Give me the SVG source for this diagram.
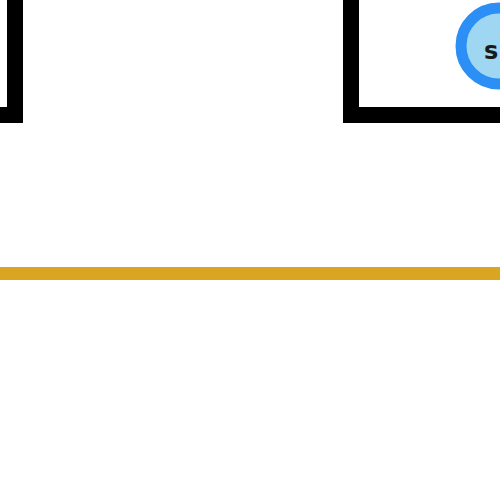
<svg xmlns="http://www.w3.org/2000/svg" width="500" height="500" viewBox="0 0 500 500">
<style>
.box{fill:none;stroke:#000;stroke-width:16}
.conn{fill:none;stroke:#DAA520;stroke-width:13}
.node{fill:#9fd6f2;stroke:#2b8ff6;stroke-width:11}
.lbl{font-family:"DejaVu Sans",sans-serif;font-size:24px;font-weight:bold;fill:#1a1a1a}
</style>
<rect width="500" height="500" fill="#fff"/>
<g id="connectors">
<line class="conn" x1="0" y1="273.5" x2="500" y2="273.5"/>
</g>
<g id="box-left">
<rect class="box" x="-100" y="-50" width="115" height="165"/>
</g>
<g id="box-right">
<rect class="box" x="351" y="-50" width="250" height="165"/>
</g>
<g id="node-s">
<circle class="node" cx="499" cy="46" r="38"/>
<text class="lbl" x="484" y="59">s</text>
</g>
</svg>
